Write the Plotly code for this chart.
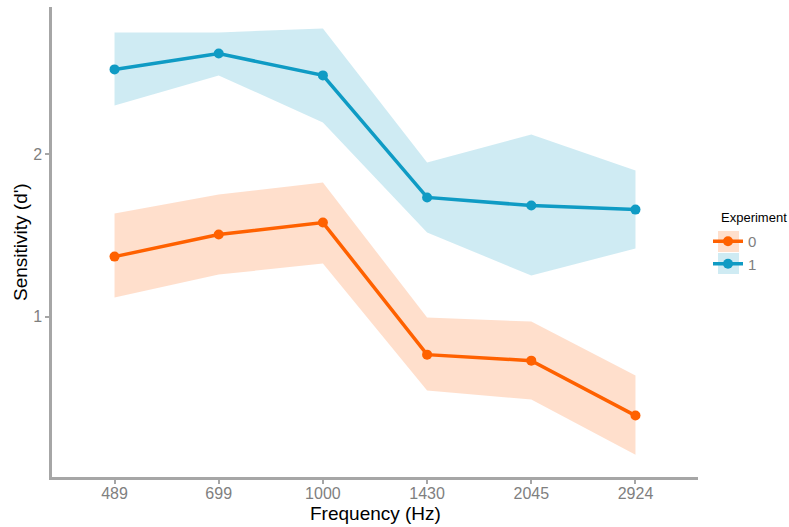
import plotly.graph_objects as go

freqs = ["489", "699", "1000", "1430", "2045", "2924"]
exp0_mean = [1.37, 1.506, 1.58, 0.765, 0.728, 0.389]
exp0_upper = [1.636, 1.753, 1.827, 0.994, 0.969, 0.636]
exp0_lower = [1.117, 1.259, 1.327, 0.543, 0.488, 0.148]
exp1_mean = [2.525, 2.623, 2.488, 1.735, 1.685, 1.66]
exp1_upper = [2.753, 2.753, 2.778, 1.951, 2.123, 1.901]
exp1_lower = [2.302, 2.488, 2.198, 1.519, 1.253, 1.42]
series_names = ["0", "1"]
legend_title = "Experiment"

colors = ["#FF6100", "#0F9BC4"]
fills = ["rgba(255,97,0,0.2)", "rgba(15,155,196,0.2)"]

L, R, T, B = 52, 698, 7, 477
W, H = 789, 527
pw, ph = R - L, B - T

def px(x):
    return (x - L) / pw

def py(y):
    return (B - y) / ph

fig = go.Figure()
data = [(exp0_mean, exp0_upper, exp0_lower), (exp1_mean, exp1_upper, exp1_lower)]
for i, (m, u, l) in enumerate(data):
    fig.add_trace(go.Scatter(
        x=freqs + freqs[::-1], y=u + l[::-1], fill="toself",
        fillcolor=fills[i], line=dict(width=0), mode="lines",
        showlegend=False, hoverinfo="skip"))
for i, (m, u, l) in enumerate(data):
    fig.add_trace(go.Scatter(
        x=freqs, y=m, mode="lines+markers", name=series_names[i],
        line=dict(color=colors[i], width=3.5),
        marker=dict(color=colors[i], size=10)))

# legend key backgrounds (ribbon fill)
key_boxes = [(231, 252), (253, 274)]
for i, (y0, y1) in enumerate(key_boxes):
    fig.add_shape(type="rect", xref="paper", yref="paper",
                  x0=px(718), x1=px(739), y0=py(y1), y1=py(y0),
                  fillcolor=fills[i], line=dict(width=0), layer="below")

fig.add_annotation(text=legend_title, xref="paper", yref="paper",
                   x=px(719), y=py(217), xanchor="left", yanchor="middle",
                   showarrow=False, font=dict(size=13, color="black"))
fig.add_annotation(text="Frequency (Hz)", xref="paper", yref="paper",
                   x=0.5, y=py(513), xanchor="center", yanchor="middle",
                   showarrow=False, font=dict(size=19, color="black"))
fig.add_annotation(text="Sensitivity (d')", xref="paper", yref="paper",
                   x=px(20), y=py(242), xanchor="center", yanchor="middle",
                   showarrow=False, textangle=-90,
                   font=dict(size=19, color="black"))

fig.update_layout(
    width=W, height=H,
    margin=dict(l=L, r=W - R, t=T, b=H - B),
    plot_bgcolor="white", paper_bgcolor="white",
    font=dict(family="Liberation Sans, Arial, sans-serif"),
    legend=dict(
        x=px(708), y=py(225), xanchor="left", yanchor="top",
        bgcolor="rgba(0,0,0,0)",
        font=dict(size=15, color="#7f7f7f"),
        itemwidth=30, tracegroupgap=0,
    ),
    xaxis=dict(
        type="category", range=[-0.6, 5.6], automargin=False,
        showline=True, linecolor="#a6a6a6", linewidth=2.5,
        ticks="outside", ticklen=4, tickcolor="#a6a6a6", tickwidth=2,
        tickfont=dict(size=16, color="#7f7f7f"), ticklabelstandoff=-4,
        showgrid=False, zeroline=False,
    ),
    yaxis=dict(
        range=[0.01, 2.91], tickvals=[1, 2], automargin=False,
        showline=True, linecolor="#a6a6a6", linewidth=2.5,
        ticks="outside", ticklen=4, tickcolor="#a6a6a6", tickwidth=2,
        tickfont=dict(size=16, color="#7f7f7f"),
        showgrid=False, zeroline=False,
    ),
)

fig.write_html("out.html", config={"displayModeBar": False},
               post_script="document.body.style.margin='0';")
